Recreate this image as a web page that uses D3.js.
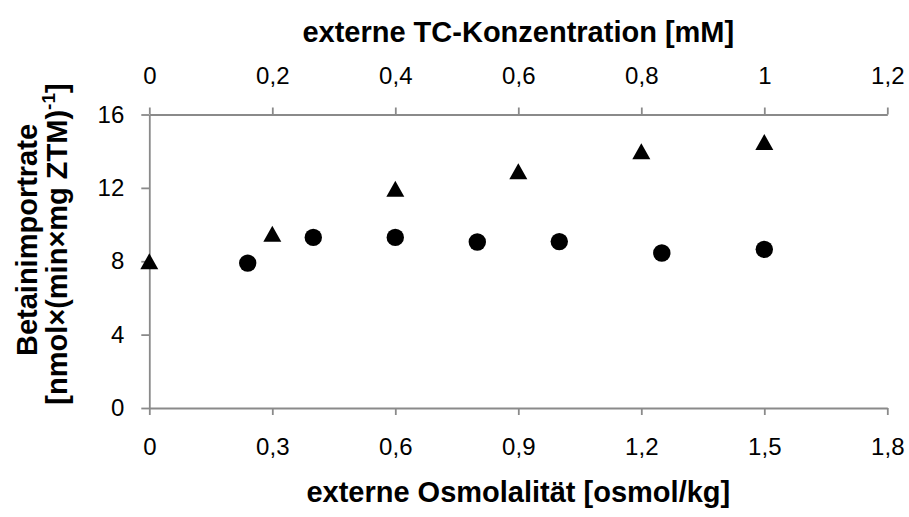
<!DOCTYPE html>
<html>
<head>
<meta charset="utf-8">
<script src="https://cdn.jsdelivr.net/npm/d3@7"></script>
<style>
  html, body { margin: 0; padding: 0; background: #fff; }
  svg { display: block; font-family: "Liberation Sans", Arial, sans-serif; }
</style>
</head>
<body>
<svg id="chart" width="909" height="517"></svg>
<script>
// ---- data ----
const osmolality = [0.24, 0.40, 0.60, 0.80, 1.00, 1.25, 1.50];       // osmol/kg (circles, bottom axis)
const rateOsmo   = [7.9, 9.3, 9.3, 9.05, 9.07, 8.45, 8.65];
const tcConc     = [0, 0.2, 0.4, 0.6, 0.8, 1.0];                      // mM (triangles, top axis)
const rateTC     = [8.0, 9.5, 11.95, 12.9, 14.0, 14.5];
const bottomTicks = [0, 0.3, 0.6, 0.9, 1.2, 1.5, 1.8];
const topTicks    = [0, 0.2, 0.4, 0.6, 0.8, 1.0, 1.2];
const yTicks      = [0, 4, 8, 12, 16];

(function () {
const svg = d3.select("#chart");
const pL = 149.3, pR = 887.3, pT = 114.5, pB = 408;
const axisColor = "#8a8a8a";
const fmt = d => String(d).replace(".", ",");

const xB = d3.scaleLinear().domain([0, 1.8]).range([pL, pR]);
const xT = d3.scaleLinear().domain([0, 1.2]).range([pL, pR]);
const y  = d3.scaleLinear().domain([0, 16]).range([pB, pT]);

function styleAxis(g) {
  g.selectAll("path.domain, line").attr("stroke", axisColor).attr("stroke-width", 1.8);
  g.selectAll("text").attr("fill", "#000").attr("font-size", 24)
    .attr("font-family", "'Liberation Sans', Arial, sans-serif");
}

// bottom axis
const gB = svg.append("g").attr("transform", `translate(0,${pB})`)
  .call(d3.axisBottom(xB).tickValues(bottomTicks).tickFormat(fmt).tickSizeInner(7).tickSizeOuter(0).tickPadding(23));
styleAxis(gB);

// top axis
const gT = svg.append("g").attr("transform", `translate(0,${pT})`)
  .call(d3.axisTop(xT).tickValues(topTicks).tickFormat(fmt).tickSizeInner(7).tickSizeOuter(0).tickPadding(24));
styleAxis(gT);

// left axis
const gL = svg.append("g").attr("transform", `translate(${pL},0)`)
  .call(d3.axisLeft(y).tickValues(yTicks).tickFormat(fmt).tickSizeInner(8).tickSizeOuter(0).tickPadding(17));
styleAxis(gL);

// custom triangle symbol (wider than tall)
const tri = {
  draw(ctx, size) {
    const w = 18, h = 16;
    ctx.moveTo(0, -h / 2);
    ctx.lineTo(w / 2, h / 2);
    ctx.lineTo(-w / 2, h / 2);
    ctx.closePath();
  }
};

// circles
svg.append("g").selectAll("circle")
  .data(osmolality.map((x, i) => [x, rateOsmo[i]]))
  .join("circle")
  .attr("cx", d => xB(d[0])).attr("cy", d => y(d[1])).attr("r", 8.7)
  .attr("fill", "#000");

// triangles
svg.append("g").selectAll("path")
  .data(tcConc.map((x, i) => [x, rateTC[i]]))
  .join("path")
  .attr("d", d3.symbol().type(tri).size(1))
  .attr("transform", d => `translate(${xT(d[0])},${y(d[1])})`)
  .attr("fill", "#000");

// titles
svg.append("text").attr("x", (pL + pR) / 2).attr("y", 42)
  .attr("text-anchor", "middle").attr("font-weight", "bold").attr("font-size", 29)
  .text("externe TC-Konzentration [mM]");

svg.append("text").attr("x", (pL + pR) / 2).attr("y", 502)
  .attr("text-anchor", "middle").attr("font-weight", "bold").attr("font-size", 29)
  .text("externe Osmolalität [osmol/kg]");

svg.append("text").attr("transform", "translate(37,240) rotate(-90)")
  .attr("text-anchor", "middle").attr("font-weight", "bold").attr("font-size", 29)
  .text("Betainimportrate");

const line2 = svg.append("text").attr("transform", "translate(67,244) rotate(-90)")
  .attr("text-anchor", "middle").attr("font-weight", "bold").attr("font-size", 29);
line2.append("tspan").text("[nmol×(min×mg ZTM)");
line2.append("tspan").attr("font-size", 19).attr("dy", -12).text("-1");
line2.append("tspan").attr("dy", 12).text("]");
})();
</script>
</body>
</html>
